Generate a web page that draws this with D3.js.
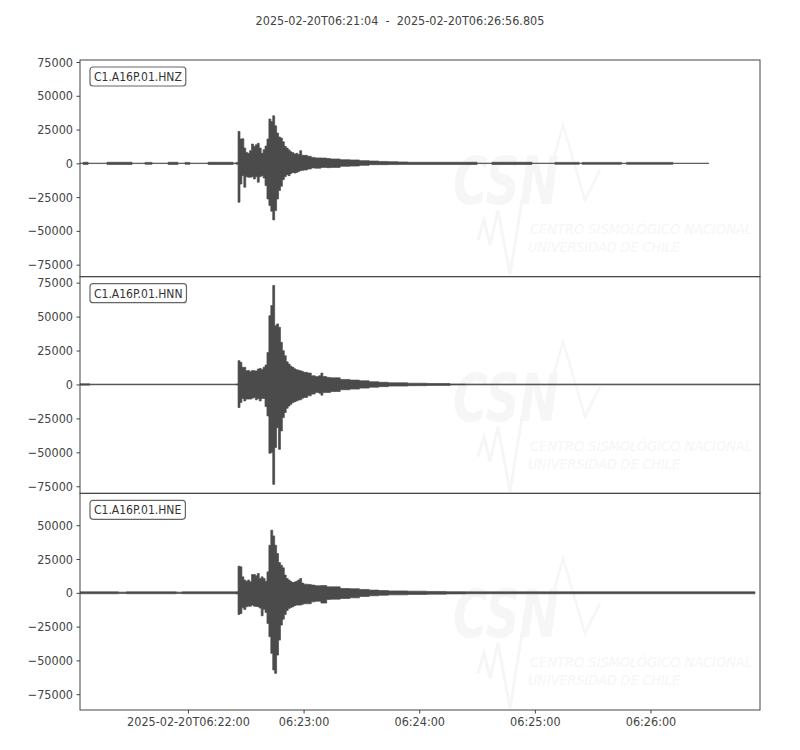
<!DOCTYPE html>
<html>
<head>
<meta charset="utf-8">
<script src="https://d3js.org/d3.v7.min.js"></script>
<style>
    body { margin: 0; background: #ffffff; }
    #chart-area { width: 800px; height: 750px; }
    text { font-family: "DejaVu Sans Condensed", "Liberation Sans Narrow", "DejaVu Sans", sans-serif; font-stretch: condensed; }
    .tick text { font-size: 12.5px; fill: #444444; }
    .tick line { stroke: #444444; }
</style>
</head>
<body>
<div id="chart-area"></div>
<script>

// time window of the stream
const startTime = new Date(Date.UTC(2025, 1, 20, 6, 21, 4, 0));
const endTime = new Date(Date.UTC(2025, 1, 20, 6, 26, 56, 805));
const titleText = "2025-02-20T06:21:04  -  2025-02-20T06:26:56.805";

const traceIds = ["C1.A16P.01.HNZ", "C1.A16P.01.HNN", "C1.A16P.01.HNE"];

// envelope (max / min counts per bin), seconds after start time
const hnzSec = [0, 1.6, 4.2, 14, 27, 33.7, 37.4, 45.7, 50.8, 54.5, 57, 66.4, 79.4, 81,
    82, 83, 84, 85, 86, 87, 88, 89, 90, 91, 92, 93, 94, 95, 96, 97, 98, 99, 100, 101, 102, 103, 104, 105,
    106, 107, 108, 109, 110, 111, 112, 113, 114, 115, 116,
    118, 120, 122, 125, 128, 130, 135, 140, 145, 150, 155, 160, 165, 170, 206, 213.7, 234.5, 246.4,
    259, 260.5, 281, 283.5, 307.6, 326.3];
const hnzMax = [150, 800, 150, 800, 150, 700, 150, 800, 150, 700, 150, 800, 300, 600,
    23600, 18000, 18200, 11300, 8100, 7400, 9400, 14300, 12600, 13800, 14800, 11300, 7400, 10100, 12800, 18000,
    32800, 31000, 35200, 27800, 22400, 19500, 18700, 16000, 12600, 11300, 9900, 8500, 7900, 7000, 7400, 6500,
    9400, 6000, 5900,
    5200, 4400, 4000, 3900, 3500, 3200, 2700, 2500, 2000, 1700, 1400, 1200, 1000, 800, 150, 800, 150, 700,
    150, 700, 150, 700, 100, 100];
const hnzMin = [-150, -800, -150, -800, -150, -700, -150, -800, -150, -700, -150, -800, -300, -600,
    -28800, -15300, -9100, -17700, -9900, -10300, -10300, -9900, -11600, -9900, -14000, -9900, -9100, -10800,
    -16500, -26400, -31300, -35500, -41900, -35000, -26400, -20200, -17000, -12100, -9900, -8400, -9100, -7500,
    -6700, -7200, -6700, -6000, -5400, -5200, -4900,
    -4200, -3400, -3600, -3000, -3200, -3000, -2200, -2000, -1500, -1000, -1000, -900, -800, -800, -150, -800,
    -150, -700, -150, -700, -150, -700, -100, -100];

const hnnSec = [0, 5, 81,
    82, 83, 84, 85, 86, 87, 88, 89, 90, 91, 92, 93, 94, 95, 96, 97, 98, 99, 100, 101, 102, 103, 104, 105,
    106, 107, 108, 109, 110, 111, 112, 113, 114, 115, 116,
    118, 120, 122, 124, 125, 126, 128, 130, 135, 140, 145, 150, 155, 160, 170, 180, 192, 200, 352.8];
const hnnMax = [500, 250, 400,
    17500, 16300, 12600, 12600, 10100, 10300, 9400, 10300, 10100, 9900, 11300, 11800, 11100, 12600, 14300,
    23600, 50700, 58100, 72900, 43300, 44600, 42100, 31000, 24900, 21200, 16700, 15000, 13500, 12600, 11500,
    10800, 10500, 10100, 9500, 8900,
    8400, 6400, 5900, 6500, 8400, 5800, 5200, 4900, 3700, 3200, 2700, 2000, 1600, 1200, 900, 700, 400, 300, 300];
const hnnMin = [-500, -250, -400,
    -17000, -13300, -10300, -12100, -10800, -10800, -10800, -10100, -9600, -11300, -10300, -12100, -10300,
    -10300, -16300, -23200, -50700, -50200, -73600, -46500, -31800, -47800, -34200, -24400, -20700, -17500,
    -15800, -14500, -13300, -12800, -12100, -11500, -11300, -10200, -9600,
    -8400, -7100, -5900, -6500, -7900, -6000, -5900, -5200, -3900, -3400, -2700, -2000, -1600, -1200, -900,
    -700, -400, -300, -300];

const hneSec = [0, 20, 24, 50, 53, 81,
    82, 83, 84, 85, 86, 87, 88, 89, 90, 91, 92, 93, 94, 95, 96, 97, 98, 99, 100, 101, 102, 103, 104, 105,
    106, 107, 108, 109, 110, 111, 112, 113, 114, 115, 116,
    118, 120, 122, 125, 128, 130, 135, 140, 145, 150, 155, 160, 170, 180, 190, 200, 350.2];
const hneMax = [700, 500, 700, 500, 700, 800,
    19700, 19200, 11800, 9400, 8600, 9400, 8100, 13500, 13500, 12600, 14300, 10600, 11800, 10600, 8600, 15500,
    35200, 46300, 42100, 35200, 29100, 22400, 20400, 18500, 13100, 10600, 9400, 8300, 7600, 8000, 8600, 9500,
    10600, 7200, 6400,
    6200, 5700, 5200, 5400, 4400, 4400, 3200, 3000, 2500, 2000, 1700, 1400, 1200, 1000, 800, 700, 700];
const hneMin = [-700, -500, -700, -500, -700, -800,
    -16000, -15300, -11100, -12300, -10300, -9900, -9900, -9100, -9900, -10100, -10300, -11300, -17000, -12100,
    -14500, -22700, -32500, -44800, -57100, -59600, -46100, -35000, -23900, -19500, -16000, -13100, -11600,
    -10800, -10300, -9500, -9100, -9000, -9100, -8500, -8100,
    -8100, -6700, -6200, -7600, -4900, -4700, -4200, -3700, -2700, -2200, -1800, -1500, -1200, -1000, -800,
    -700, -700];

// y limits and tick values of each panel
const yLimits = [[-83900, 76500], [-80200, 79400], [-86700, 73600]];
const yTicksFull = [75000, 50000, 25000, 0, -25000, -50000, -75000];
const yTicksLow = [50000, 25000, 0, -25000, -50000, -75000];


/* * * * * * * * * * * * * *
*      class TraceVis      *
* * * * * * * * * * * * * */

class TraceVis {

    constructor(svg, index, traceId, sec, maxVals, minVals, yDomain, yTicks, showTime) {
        this.svg = svg;
        this.index = index;
        this.traceId = traceId;
        this.showTime = showTime;
        this.yDomain = yDomain;
        this.yTicks = yTicks;
        this.displayData = sec.map((s, i) => ({
            time: new Date(startTime.getTime() + s * 1000),
            max: maxVals[i],
            min: minVals[i]
        }));

        this.initVis();
    }

    initVis() {
        let vis = this;

        vis.margin = {top: 60, right: 40, bottom: 40, left: 80};
        vis.width = 800 - vis.margin.left - vis.margin.right;
        vis.height = (750 - vis.margin.top - vis.margin.bottom) / 3;

        vis.g = vis.svg.append("g")
            .attr("transform", `translate(${vis.margin.left}, ${vis.margin.top + vis.index * vis.height})`);

        // scales
        vis.x = d3.scaleUtc()
            .domain([startTime, endTime])
            .range([0, vis.width]);

        vis.y = d3.scaleLinear()
            .domain(vis.yDomain)
            .range([vis.height, 0]);

        vis.g.append("clipPath")
            .attr("id", "clip" + vis.index)
            .append("rect")
            .attr("width", vis.width)
            .attr("height", vis.height);

        vis.drawLogo();

        // waveform envelope
        vis.area = d3.area()
            .curve(d3.curveStepAfter)
            .x(d => vis.x(d.time))
            .y0(d => vis.y(d.min))
            .y1(d => vis.y(d.max));

        vis.g.append("path")
            .datum(vis.displayData)
            .attr("clip-path", `url(#clip${vis.index})`)
            .attr("d", vis.area)
            .attr("fill", "#4b4b4b")
            .attr("stroke", "#4b4b4b")
            .attr("stroke-width", 0.7);

        // frame
        vis.g.append("rect")
            .attr("width", vis.width)
            .attr("height", vis.height)
            .attr("fill", "none")
            .attr("stroke", "#444444")
            .attr("stroke-width", 1);

        // y axis
        vis.yAxis = d3.axisLeft(vis.y)
            .tickValues(vis.yTicks)
            .tickSize(3.5)
            .tickPadding(3.5)
            .tickFormat(d3.format("d"));

        vis.g.append("g")
            .attr("class", "y-axis axis")
            .call(vis.yAxis)
            .call(g => g.select(".domain").remove());

        // x axis only under the last panel
        if (vis.showTime) {
            let fullFmt = d3.utcFormat("%Y-%m-%dT%H:%M:%S");
            let shortFmt = d3.utcFormat("%H:%M:%S");
            vis.xAxis = d3.axisBottom(vis.x)
                .ticks(d3.utcMinute.every(1))
                .tickSize(3.5)
                .tickPadding(3.5)
                .tickFormat((d, i) => i === 0 ? fullFmt(d) : shortFmt(d));

            vis.g.append("g")
                .attr("class", "x-axis axis")
                .attr("transform", "translate(0," + vis.height + ")")
                .call(vis.xAxis)
                .call(g => g.select(".domain").remove());
        }

        // trace id box
        let label = vis.g.append("g").attr("class", "trace-label");
        let txt = label.append("text")
            .attr("x", 14)
            .attr("y", 21)
            .attr("font-size", "12px")
            .attr("fill", "#333333")
            .text(vis.traceId);
        let box = txt.node().getBBox();
        label.insert("rect", "text")
            .attr("x", 10)
            .attr("y", 7)
            .attr("width", box.width + 8)
            .attr("height", 19)
            .attr("rx", 3)
            .attr("fill", "#ffffff")
            .attr("stroke", "#666666")
            .attr("stroke-width", 1.2);
    }

    drawLogo() {
        let vis = this;

        // faint CSN watermark
        let logo = vis.g.append("g")
            .attr("class", "watermark")
            .attr("fill", "#f6f6f6")
            .attr("stroke", "#f6f6f6");

        logo.append("text")
            .attr("x", 373)
            .attr("y", 144)
            .attr("font-size", "66px")
            .attr("font-weight", "bold")
            .attr("font-style", "italic")
            .attr("stroke", "none")
            .attr("textLength", 106)
            .attr("lengthAdjust", "spacingAndGlyphs")
            .text("CSN");

        logo.append("path")
            .attr("fill", "none")
            .attr("stroke-width", 2.5)
            .attr("d", "M462,140 L483,65 L505,140 L520,110");

        logo.append("path")
            .attr("fill", "none")
            .attr("stroke-width", 3)
            .attr("d", "M398,180 L404,160 L410,185 L418,150 L430,215 L442,140");

        logo.append("text")
            .attr("x", 450)
            .attr("y", 174)
            .attr("font-size", "14px")
            .attr("font-style", "italic")
            .attr("stroke", "none")
            .attr("textLength", 222)
            .attr("lengthAdjust", "spacingAndGlyphs")
            .text("CENTRO SISMOLÓGICO NACIONAL");

        logo.append("text")
            .attr("x", 448)
            .attr("y", 192)
            .attr("font-size", "14px")
            .attr("font-style", "italic")
            .attr("stroke", "none")
            .attr("textLength", 152)
            .attr("lengthAdjust", "spacingAndGlyphs")
            .text("UNIVERSIDAD DE CHILE");
    }
}


let svg = d3.select("#chart-area").append("svg")
    .attr("width", 800)
    .attr("height", 750);

svg.append("text")
    .attr("x", 400)
    .attr("y", 25)
    .attr("text-anchor", "middle")
    .attr("font-size", "12.5px")
    .attr("fill", "#444444")
    .style("white-space", "pre")
    .text(titleText);

let panels = [
    new TraceVis(svg, 0, traceIds[0], hnzSec, hnzMax, hnzMin, yLimits[0], yTicksFull, false),
    new TraceVis(svg, 1, traceIds[1], hnnSec, hnnMax, hnnMin, yLimits[1], yTicksFull, false),
    new TraceVis(svg, 2, traceIds[2], hneSec, hneMax, hneMin, yLimits[2], yTicksLow, true)
];

</script>
</body>
</html>
